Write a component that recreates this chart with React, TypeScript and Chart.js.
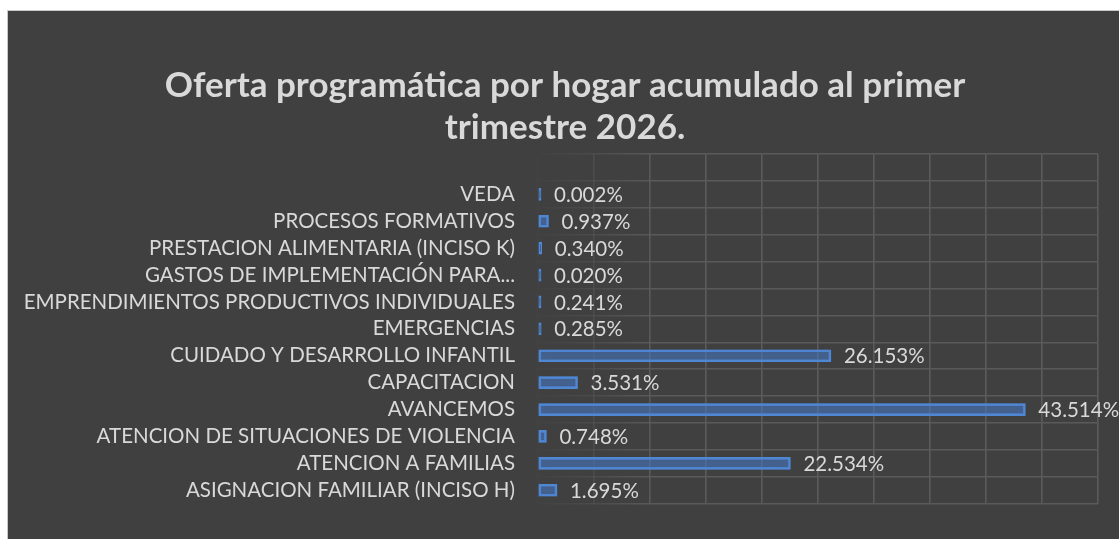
import React, { useEffect, useRef } from "react";
import { Chart, registerables } from "chart.js";

Chart.register(...registerables);

const categories: string[] = [
  "",
  "VEDA",
  "PROCESOS FORMATIVOS",
  "PRESTACION ALIMENTARIA (INCISO K)",
  "GASTOS DE IMPLEMENTACIÓN PARA...",
  "EMPRENDIMIENTOS PRODUCTIVOS INDIVIDUALES",
  "EMERGENCIAS",
  "CUIDADO Y DESARROLLO INFANTIL",
  "CAPACITACION",
  "AVANCEMOS",
  "ATENCION DE SITUACIONES DE VIOLENCIA",
  "ATENCION A FAMILIAS",
  "ASIGNACION FAMILIAR (INCISO H)",
];

const values: (number | null)[] = [
  null, 0.002, 0.937, 0.34, 0.02, 0.241, 0.285, 26.153, 3.531, 43.514, 0.748, 22.534, 1.695,
];

const axisMin = 0;
const axisMax = 50;
const axisStep = 5;

const titleLines: string[] = [
  "Oferta programática por hogar acumulado al primer",
  "trimestre 2026.",
];

const FONT = "Lato";
const TEXT = "#d9d9d9";
const LABEL_SIZE = 20.5;
const TITLE_SIZE = 35;

export default function App() {
  const ref = useRef<HTMLCanvasElement | null>(null);

  useEffect(() => {
    const canvas = ref.current;
    if (!canvas) return;

    const gridColor = (ctx: any) => {
      const chart = ctx.chart;
      const area = chart.chartArea;
      if (!area) return "rgba(90,90,90,1)";
      const g = chart.ctx.createLinearGradient(area.left, 0, area.left + 115, 0);
      g.addColorStop(0, "rgba(90,90,90,0.08)");
      g.addColorStop(0.5, "rgba(90,90,90,0.45)");
      g.addColorStop(1, "rgba(90,90,90,1)");
      return g;
    };

    const titleDraw = {
      id: "titleDraw",
      afterDraw(chart: any) {
        const c = chart.ctx;
        c.save();
        c.font = `bold ${TITLE_SIZE}px ${FONT}`;
        c.fillStyle = TEXT;
        c.textAlign = "center";
        c.textBaseline = "middle";
        const cx = chart.width / 2 + 1.5;
        const lh = TITLE_SIZE * 1.22;
        titleLines.forEach((t, i) => c.fillText(t, cx, 74.5 + i * lh));
        c.restore();
      },
    };

    const glowLabels = {
      id: "glowLabels",
      beforeDatasetsDraw(chart: any) {
        const c = chart.ctx;
        c.save();
        c.shadowColor = "rgba(78,132,205,0.85)";
        c.shadowBlur = 8;
      },
      afterDatasetsDraw(chart: any) {
        const c = chart.ctx;
        c.restore();
        const meta = chart.getDatasetMeta(0);
        c.save();
        c.font = `${LABEL_SIZE}px ${FONT}`;
        c.fillStyle = TEXT;
        c.textAlign = "left";
        c.textBaseline = "middle";
        meta.data.forEach((el: any, i: number) => {
          const v = values[i];
          if (v == null) return;
          c.fillText(v.toFixed(3) + "%", el.x + 13, el.y + 1);
        });
        c.restore();
      },
    };

    const chart = new Chart(canvas, {
      type: "bar",
      data: {
        labels: categories,
        datasets: [
          {
            data: values as any,
            backgroundColor: "rgba(68,114,196,0.32)",
            borderColor: "#5088d4",
            borderWidth: 2,
            borderSkipped: false,
            barThickness: 12,
            minBarLength: 3,
          },
        ],
      },
      options: {
        indexAxis: "y",
        animation: false,
        responsive: false,
        maintainAspectRatio: false,
        layout: { padding: { left: 0, right: 21, top: 143, bottom: 25 } },
        plugins: {
          legend: { display: false },
          tooltip: { enabled: false },
          title: { display: false },
        },
        scales: {
          x: {
            min: axisMin,
            max: axisMax,
            ticks: { display: false, stepSize: axisStep },
            grid: { color: gridColor as any, lineWidth: 1.6, drawTicks: false },
            border: { display: false },
          },
          y: {
            ticks: {
              color: TEXT,
              font: { family: FONT, size: LABEL_SIZE },
              padding: 23,
              autoSkip: false,
            },
            grid: { color: gridColor as any, lineWidth: 1.6, drawTicks: false, offset: true },
            border: { display: false },
            afterFit: (scale: any) => {
              scale.width = 530;
            },
          },
        },
      },
      plugins: [glowLabels, titleDraw],
    });

    return () => chart.destroy();
  }, []);

  return (
    <div style={{ position: "fixed", left: 0, top: 0, width: 1119, height: 539, background: "#ffffff", overflow: "hidden" }}>
      <div
        style={{
          position: "absolute",
          left: 7,
          top: 10,
          width: 1111,
          height: 528,
          borderLeft: "1px solid #c9c9c9",
          borderTop: "1px solid #c9c9c9",
          background: "#404040",
        }}
      >
        <canvas ref={ref} width={1111} height={528} style={{ display: "block", width: 1111, height: 528 }} />
      </div>
    </div>
  );
}
